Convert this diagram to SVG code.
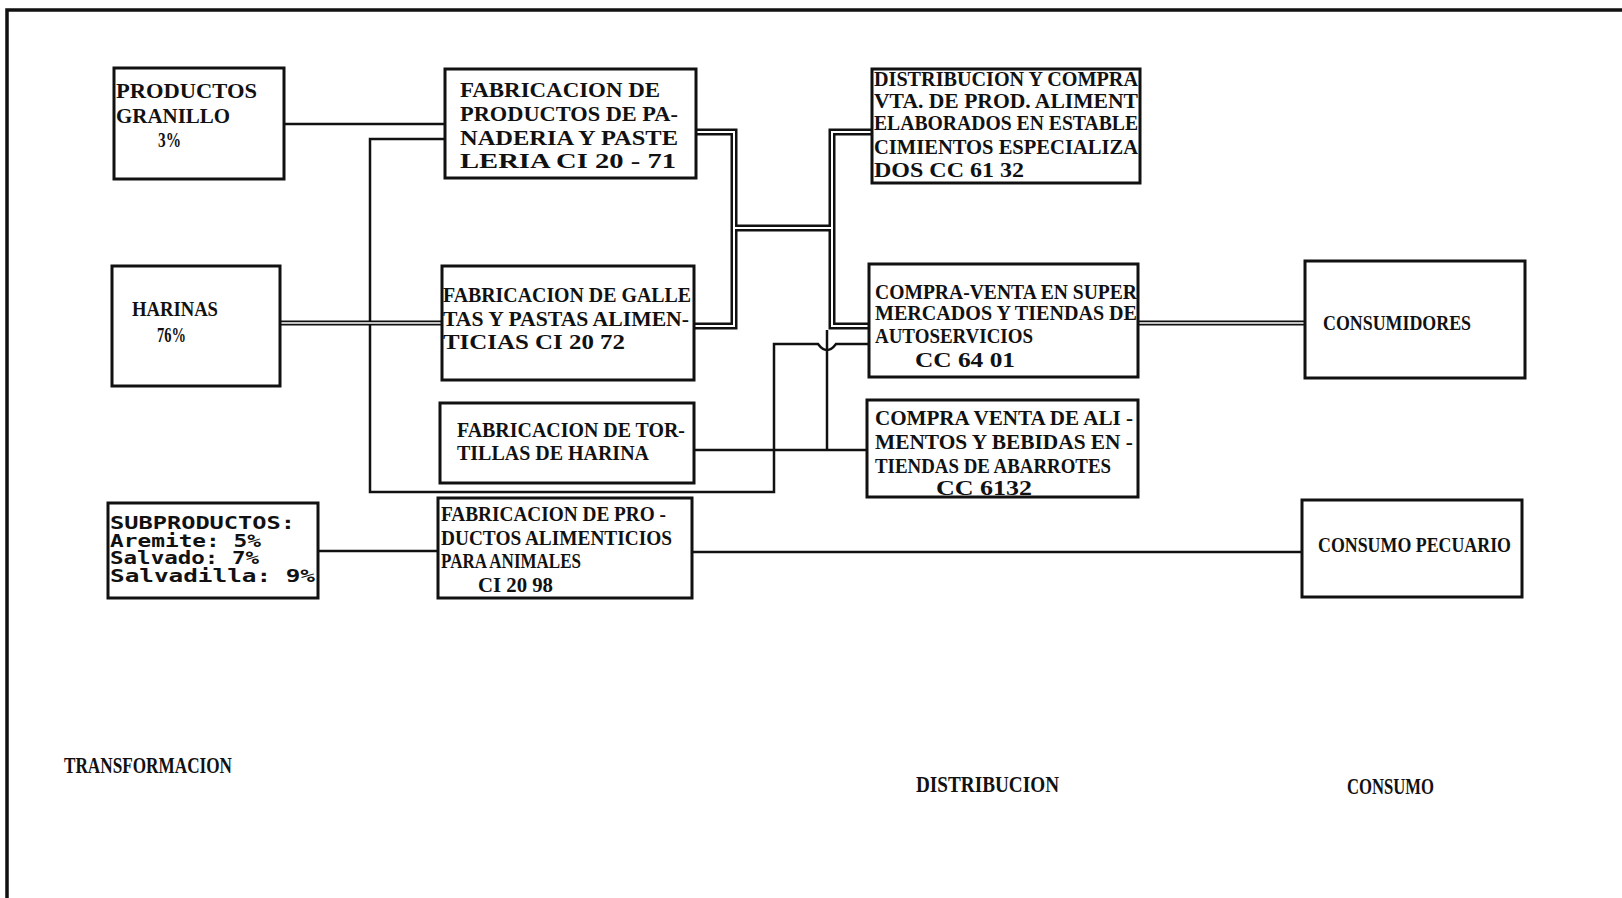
<svg xmlns="http://www.w3.org/2000/svg" width="1622" height="898" viewBox="0 0 1622 898">
<style>
.bx{fill:#fff;stroke:#111;stroke-width:3}
.t{font-family:"Liberation Serif",serif;font-weight:bold;font-size:21px;fill:#111}
.m{font-family:"DejaVu Sans Mono","Liberation Mono",monospace;font-weight:bold;font-size:17px;fill:#111}
.lb{font-family:"Liberation Serif",serif;font-weight:bold;font-size:24px;fill:#111}
.s{fill:none;stroke:#111;stroke-width:2.5}
.dk{fill:none;stroke:#111;stroke-width:7;stroke-linejoin:miter}
.dw{fill:none;stroke:#fff;stroke-width:2;stroke-linejoin:miter}
.hk{fill:none;stroke:#111;stroke-width:5}
.hw{fill:none;stroke:#fff;stroke-width:1.5}
</style>
<rect width="1622" height="898" fill="#fff"/>
<g id="frame">
<path d="M7 898 V10 H1622" fill="none" stroke="#111" stroke-width="3.5"/>
</g>
<g id="connectors">
<path class="s" d="M284 124 H445"/>
<path class="s" d="M445 139 H370 V492 H774 V344 H818 Q827 356 836 344 H869"/>
<path class="s" d="M694 450 H869"/>
<path class="s" d="M827 330 V450"/>
<path class="s" d="M318 551 H438"/>
<path class="s" d="M692 552 H1302"/>
<path class="hk" d="M280 323 H442"/>
<path class="hw" d="M280 323 H442"/>
<path class="hk" d="M1138 323 H1305"/>
<path class="hw" d="M1138 323 H1305"/>
<path class="dk" d="M696 132 H734 V326 H694"/>
<path class="dk" d="M734 228 H832"/>
<path class="dk" d="M872 132 H832 V326 H869"/>
<path class="dw" d="M696 132 H734 V326 H694"/>
<path class="dw" d="M734 228 H832"/>
<path class="dw" d="M872 132 H832 V326 H869"/>
</g>
<g id="n1">
<rect class="bx" x="114" y="68" width="170" height="111"/>
<text class="t" x="116" y="98" textLength="141" lengthAdjust="spacingAndGlyphs">PRODUCTOS</text>
<text class="t" x="116" y="123" textLength="114" lengthAdjust="spacingAndGlyphs">GRANILLO</text>
<text class="t" x="158" y="147" textLength="23" lengthAdjust="spacingAndGlyphs">3%</text>
</g>
<g id="n2">
<rect class="bx" x="112" y="266" width="168" height="120"/>
<text class="t" x="132" y="316" textLength="86" lengthAdjust="spacingAndGlyphs">HARINAS</text>
<text class="t" x="157" y="342" textLength="29" lengthAdjust="spacingAndGlyphs">76%</text>
</g>
<g id="n3">
<rect class="bx" x="108" y="503" width="210" height="95"/>
<text class="m" x="110" y="529" textLength="185" lengthAdjust="spacingAndGlyphs">SUBPRODUCTOS:</text>
<text class="m" x="110" y="547" textLength="151" lengthAdjust="spacingAndGlyphs">Aremite: 5%</text>
<text class="m" x="110" y="564" textLength="149" lengthAdjust="spacingAndGlyphs">Salvado: 7%</text>
<text class="m" x="110" y="582" textLength="205" lengthAdjust="spacingAndGlyphs">Salvadilla: 9%</text>
</g>
<g id="n4">
<rect class="bx" x="445" y="69" width="251" height="109"/>
<text class="t" x="460" y="97" textLength="200" lengthAdjust="spacingAndGlyphs">FABRICACION DE</text>
<text class="t" x="460" y="121" textLength="218" lengthAdjust="spacingAndGlyphs">PRODUCTOS DE PA-</text>
<text class="t" x="460" y="145" textLength="218" lengthAdjust="spacingAndGlyphs">NADERIA Y PASTE</text>
<text class="t" x="460" y="168" textLength="216" lengthAdjust="spacingAndGlyphs">LERIA CI 20 - 71</text>
</g>
<g id="n5">
<rect class="bx" x="442" y="266" width="252" height="114"/>
<text class="t" x="443" y="302" textLength="248" lengthAdjust="spacingAndGlyphs">FABRICACION DE GALLE</text>
<text class="t" x="443" y="326" textLength="246" lengthAdjust="spacingAndGlyphs">TAS Y PASTAS ALIMEN-</text>
<text class="t" x="443" y="349" textLength="182" lengthAdjust="spacingAndGlyphs">TICIAS CI 20 72</text>
</g>
<g id="n6">
<rect class="bx" x="440" y="403" width="254" height="80"/>
<text class="t" x="457" y="437" textLength="228" lengthAdjust="spacingAndGlyphs">FABRICACION DE TOR-</text>
<text class="t" x="457" y="460" textLength="192" lengthAdjust="spacingAndGlyphs">TILLAS DE HARINA</text>
</g>
<g id="n7">
<rect class="bx" x="438" y="498" width="254" height="100"/>
<text class="t" x="441" y="521" textLength="225" lengthAdjust="spacingAndGlyphs">FABRICACION DE PRO -</text>
<text class="t" x="441" y="545" textLength="231" lengthAdjust="spacingAndGlyphs">DUCTOS ALIMENTICIOS</text>
<text class="t" x="441" y="568" textLength="140" lengthAdjust="spacingAndGlyphs">PARA ANIMALES</text>
<text class="t" x="478" y="592" textLength="75" lengthAdjust="spacingAndGlyphs">CI 20 98</text>
</g>
<g id="n8">
<rect class="bx" x="872" y="69" width="268" height="114"/>
<text class="t" x="874" y="86" textLength="264" lengthAdjust="spacingAndGlyphs">DISTRIBUCION Y COMPRA</text>
<text class="t" x="874" y="108" textLength="264" lengthAdjust="spacingAndGlyphs">VTA. DE PROD. ALIMENT</text>
<text class="t" x="874" y="130" textLength="264" lengthAdjust="spacingAndGlyphs">ELABORADOS EN ESTABLE</text>
<text class="t" x="874" y="154" textLength="264" lengthAdjust="spacingAndGlyphs">CIMIENTOS ESPECIALIZA</text>
<text class="t" x="874" y="177" textLength="150" lengthAdjust="spacingAndGlyphs">DOS CC 61 32</text>
</g>
<g id="n9">
<rect class="bx" x="869" y="264" width="269" height="113"/>
<text class="t" x="875" y="299" textLength="262" lengthAdjust="spacingAndGlyphs">COMPRA-VENTA EN SUPER</text>
<text class="t" x="875" y="320" textLength="262" lengthAdjust="spacingAndGlyphs">MERCADOS Y TIENDAS DE</text>
<text class="t" x="875" y="343" textLength="158" lengthAdjust="spacingAndGlyphs">AUTOSERVICIOS</text>
<text class="t" x="915" y="367" textLength="100" lengthAdjust="spacingAndGlyphs">CC 64 01</text>
</g>
<g id="n10">
<rect class="bx" x="867" y="400" width="271" height="97"/>
<text class="t" x="875" y="425" textLength="258" lengthAdjust="spacingAndGlyphs">COMPRA VENTA DE ALI -</text>
<text class="t" x="875" y="449" textLength="258" lengthAdjust="spacingAndGlyphs">MENTOS Y BEBIDAS EN -</text>
<text class="t" x="875" y="473" textLength="236" lengthAdjust="spacingAndGlyphs">TIENDAS DE ABARROTES</text>
<text class="t" x="936" y="495" textLength="96" lengthAdjust="spacingAndGlyphs">CC  6132</text>
</g>
<g id="n11">
<rect class="bx" x="1305" y="261" width="220" height="117"/>
<text class="t" x="1323" y="330" textLength="148" lengthAdjust="spacingAndGlyphs">CONSUMIDORES</text>
</g>
<g id="n12">
<rect class="bx" x="1302" y="500" width="220" height="97"/>
<text class="t" x="1318" y="552" textLength="193" lengthAdjust="spacingAndGlyphs">CONSUMO PECUARIO</text>
</g>
<g id="labels">
<text class="lb" x="64" y="773" textLength="168" lengthAdjust="spacingAndGlyphs">TRANSFORMACION</text>
<text class="lb" x="916" y="792" textLength="143" lengthAdjust="spacingAndGlyphs">DISTRIBUCION</text>
<text class="lb" x="1347" y="794" textLength="87" lengthAdjust="spacingAndGlyphs">CONSUMO</text>
</g>
</svg>
